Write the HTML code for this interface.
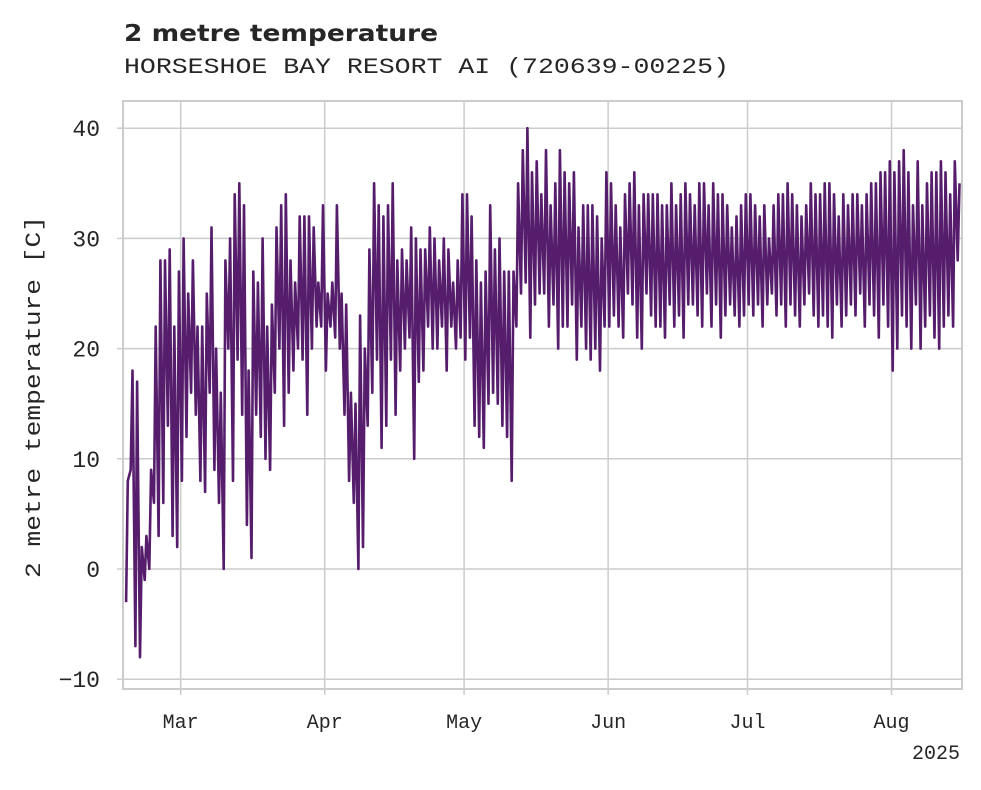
<!DOCTYPE html>
<html><head><meta charset="utf-8"><style>
body{margin:0;background:#fff;}
svg text{font-family:"Liberation Mono",monospace;}
</style></head><body>
<svg id="chart" width="981" height="785" xmlns="http://www.w3.org/2000/svg">
<text x="124" y="41" font-size="23" font-weight="bold" fill="#262626" textLength="314" lengthAdjust="spacingAndGlyphs" style="font-family:'DejaVu Sans','Liberation Sans',sans-serif">2 metre temperature</text>
<text x="124" y="73" font-size="22" fill="#262626" textLength="605" lengthAdjust="spacingAndGlyphs">HORSESHOE BAY RESORT AI (720639-00225)</text>
<text transform="translate(40,397) rotate(-90)" text-anchor="middle" font-size="22" fill="#262626" textLength="362" lengthAdjust="spacingAndGlyphs">2 metre temperature [C]</text>
<g id="grid"></g><g id="series"></g><g id="axes"></g>
</svg>
<script>
const startDate = "2025-02-17";
const dailyMax = [8,18,17,2,3,9,22,28,28,29,22,27,
30,25,28,22,22,25,31,20,16,28,30,34,35,33,18,27,26,30,22,24,31,33,34,28,26,32,32,32,31,26,33,
25,26,33,25,24,16,15,23,20,29,35,33,32,33,35,28,29,28,31,30,29,29,31,30,28,30,29,26,28,34,
34,32,28,26,27,33,29,30,27,27,27,35,38,40,36,37,34,38,33,35,38,36,35,36,31,33,33,33,32,30,36,
35,33,31,34,35,36,33,34,34,34,34,33,33,35,33,34,35,34,33,35,35,33,35,34,34,33,31,32,33,34,
34,33,32,33,30,33,34,34,35,34,33,32,33,35,34,34,35,35,34,32,34,33,34,34,33,34,35,35,36,36,37,
36,37,38,36,33,37,33,35,36,36,37,36,34,37,35];
const dailyMin = [-3,9,-7,-8,-1,0,6,3,6,13,3,2,
8,12,16,14,8,7,16,9,6,0,20,8,19,14,4,1,14,12,10,9,16,20,13,16,18,20,19,14,20,22,22,
18,22,21,20,14,8,6,0,2,13,16,19,11,13,19,14,18,20,21,10,17,18,22,20,20,22,18,22,20,21,
19,21,13,12,11,15,16,15,13,12,8,22,25,26,21,24,25,25,22,24,20,22,22,24,19,22,20,19,20,18,22,
22,23,22,21,25,24,21,20,25,23,22,22,21,24,22,23,21,24,24,23,22,25,22,24,21,23,24,23,22,23,
24,23,24,22,24,25,23,24,22,24,23,22,24,25,23,22,23,22,21,24,22,23,24,23,25,22,24,23,21,24,22,
18,20,23,22,20,24,20,22,23,21,20,22,23,22,28];
const yTicks = [-10,0,10,20,30,40];
const monthLabels = ["Mar","Apr","May","Jun","Jul","Aug"];
const monthDates = ["2025-03-01","2025-04-01","2025-05-01","2025-06-01","2025-07-01","2025-08-01"];

const NS="http://www.w3.org/2000/svg";
const L=123,R=962,T=101,B=689;
const t0=Date.parse("2025-02-16T14:00:00Z"), t1=Date.parse("2025-08-16T04:00:00Z");
const xS=t=>L+(t-t0)/(t1-t0)*(R-L);
const yS=v=>569-v*11.02;
function mk(tag,attrs,parent){const e=document.createElementNS(NS,tag);for(const k in attrs)e.setAttribute(k,attrs[k]);parent.appendChild(e);return e;}
const grid=document.getElementById('grid'),axes=document.getElementById('axes'),series=document.getElementById('series');
yTicks.forEach(v=>{
  const y=yS(v);
  const g=mk('line',{x1:L,x2:R,y1:y,y2:y,stroke:'#cccccc','stroke-width':1.5},grid);
  
  
  const tk=mk('line',{x1:L-6,x2:L,y1:y,y2:y,stroke:'#cccccc','stroke-width':1.5},axes);
  
  
  const tx=mk('text',{x:100,y:y+8,'text-anchor':'end','font-size':23,fill:'#262626'},axes);
  tx.textContent=v===-10?'\u221210':String(v);
  
  
});
monthDates.forEach((d,i)=>{
  const x=xS(Date.parse(d+"T00:00:00Z"));
  const g=mk('line',{x1:x,x2:x,y1:T,y2:B,stroke:'#cccccc','stroke-width':1.5},grid);
  
  
  const tk=mk('line',{x1:x,x2:x,y1:B,y2:B+6,stroke:'#cccccc','stroke-width':1.5},axes);
  
  
  const tx=mk('text',{x:x,y:728,'text-anchor':'middle','font-size':20,fill:'#262626'},axes);
  tx.textContent=monthLabels[i];
  
  
});
const yr=mk('text',{x:960,y:759,'text-anchor':'end','font-size':20,fill:'#262626'},axes);
yr.textContent='2025';


const fr=mk('rect',{x:L,y:T,width:R-L,height:B-T,fill:'none',stroke:'#cccccc','stroke-width':2},axes);


const base=Date.parse(startDate+"T00:00:00Z"),DAY=86400000;
let pts=[];
for(let i=0;i<dailyMax.length;i++){
  const d=base+i*DAY;
  pts.push([xS(d+6*3600000),yS(dailyMin[i])]);
  pts.push([xS(d+15*3600000),yS(dailyMax[i])]);
}
const p=mk('path',{d:'M'+pts.map(q=>q[0].toFixed(1)+','+q[1].toFixed(1)).join('L'),fill:'none',stroke:'#561d6c','stroke-width':2.6,'stroke-linejoin':'round'},series);


</script>
</body></html>
